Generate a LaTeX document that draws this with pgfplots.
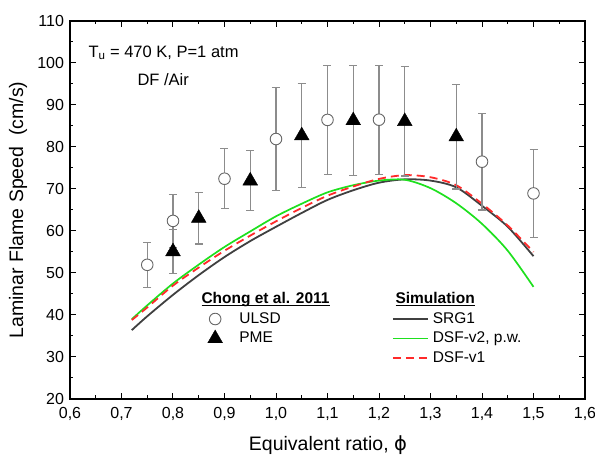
\documentclass[border=0pt]{standalone}
\usepackage{fontspec}
\setmainfont{Liberation Sans}
\newfontfamily\dejavu{DejaVu Sans}
\usepackage{pgfplots}
\pgfplotsset{compat=1.18}
\definecolor{srg}{HTML}{404040}
\definecolor{dsfgreen}{HTML}{1EE01E}
\definecolor{dsfred}{HTML}{FF2A2A}
\definecolor{errgray}{HTML}{8C8C8C}
\newcommand\myul[1]{\setbox0\hbox{#1}\rlap{\rule[-2.2pt]{\wd0}{1pt}}\box0}

\pgfplotstableread{
x y e
0.75 51.95 5.3
0.80 62.4 6.3
0.90 72.45 7.2
1.00 81.9 12.3
1.10 86.45 13.0
1.20 86.5 13.0
1.40 76.5 11.5
1.50 68.95 10.4
}\ulsd
\pgfplotstableread{
x y e
0.80 55.1 5.2
0.85 63.05 6.15
0.95 71.95 7.15
1.05 82.7 12.4
1.15 86.3 13.0
1.25 86.1 13.0
1.35 82.45 12.45
}\pme
\pgfplotstableread{
x y
0.72 36.4
0.75 39.7
0.80 44.8
0.85 49.5
0.90 53.8
0.95 57.6
1.00 61.0
1.05 64.3
1.10 67.4
1.15 69.7
1.20 71.5
1.25 72.3
1.30 72.0
1.35 70.4
1.40 66.0
1.45 61.0
1.50 54.0
}\srg
\pgfplotstableread{
x y
0.72 39.0
0.75 42.3
0.80 47.5
0.85 52.0
0.90 56.2
0.95 59.9
1.00 63.5
1.05 66.5
1.10 69.2
1.15 70.9
1.20 72.0
1.25 72.2
1.30 70.2
1.35 66.6
1.40 61.7
1.45 55.3
1.50 46.7
}\dsfvtwo
\pgfplotstableread{
x y
0.72 38.8
0.75 41.8
0.80 47.0
0.85 51.3
0.90 55.3
0.95 58.9
1.00 62.3
1.05 65.5
1.10 68.4
1.15 70.6
1.20 72.4
1.25 73.3
1.30 72.8
1.35 70.9
1.40 66.5
1.45 61.3
1.50 55.0
}\dsfvone

\pgfplotsset{
  base/.style={scale only axis, width=515pt, height=378pt,
    xmin=0.6, xmax=1.6, ymin=20, ymax=110, at={(0,0)}, anchor=south west},
  leg/.style={legend cell align=left,
    legend style={draw=none, fill=none, inner sep=0pt, outer sep=0pt,
      row sep=0pt, column sep=2pt, font=\fontsize{15.5}{15.5}\selectfont,
      nodes={inner sep=2pt, text height=12pt, text depth=3.5pt}}},
  errs/.style={forget plot, draw=none, mark=none,
    error bars/.cd, y dir=both, y explicit,
    error bar style={errgray, line width=1.1pt},
    error mark options={rotate=90, errgray, mark size=4pt, line width=1.1pt}}
}

\begin{document}
\begin{tikzpicture}
% simulation curves (overlaid axis)
\begin{axis}[base, hide axis, leg,
  legend style={at={(axis description cs:0.6252,0.2374)}, anchor=north west},
  legend image code/.code={\draw[#1] (0pt,0pt) -- (35pt,0pt);}]
\addplot[srg, line width=1.8pt, smooth] table[x=x,y=y]{\srg};
\addlegendentry{SRG1}
\addplot[dsfgreen, line width=1.7pt, smooth] table[x=x,y=y]{\dsfvtwo};
\addlegendentry{DSF-v2, p.w.}
\addplot[dsfred, line width=1.8pt, dash pattern=on 8pt off 5pt, smooth] table[x=x,y=y]{\dsfvone};
\addlegendentry{DSF-v1}
\end{axis}
% experimental data + frame
\begin{axis}[base, leg,
  legend style={at={(axis description cs:0.2621,0.2374)}, anchor=north west},
  xtick={0.6,0.7,0.8,0.9,1.0,1.1,1.2,1.3,1.4,1.5,1.6},
  ytick={20,30,40,50,60,70,80,90,100,110},
  minor x tick num=1, minor y tick num=1,
  tick align=inside,
  major tick length=6pt, minor tick length=3.5pt,
  every tick/.style={black, line width=1pt},
  axis line style={line width=1.3pt},
  x tick label style={/pgf/number format/.cd, use comma, fixed, fixed zerofill, precision=1, assume math mode=true, /tikz/.cd, yshift=-5pt},
  y tick label style={/pgf/number format/.cd, assume math mode=true, /tikz/.cd, xshift=-2.5pt},
  ticklabel style={font=\fontsize{16}{16}\selectfont},
  xlabel={Equivalent ratio, {\dejavu ϕ}},
  ylabel={Laminar Flame Speed\ \ (cm/s)},
  label style={font=\fontsize{19.5}{19.5}\selectfont},
  xlabel style={at={(axis description cs:0.501,-0.121)}, anchor=center},
  ylabel style={at={(axis description cs:-0.101,0.5)}, anchor=center},
  legend image code/.code={\path (0pt,0pt) (30pt,0pt); \draw[#1] plot coordinates {(10pt,0pt)};}
]
\addplot[errs] table[x=x, y=y, y error=e]{\ulsd};
\addplot[errs] table[x=x, y=y, y error=e]{\pme};
\addplot[only marks, mark=*, mark size=5.8pt,
  mark options={fill=white, draw=black!60, line width=0.9pt}]
  table[x=x, y=y]{\ulsd};
\addlegendentry{ULSD}
\addplot[only marks, mark=triangle*, mark size=8.5pt,
  mark options={fill=black, draw=black}]
  table[x=x, y=y]{\pme};
\addlegendentry{PME}
\node[anchor=base west, font=\fontsize{16.5}{16.5}\selectfont] at (axis cs:0.6291,101.36) {T\textsubscript{u} = 470 K, P=1 atm};
\node[anchor=base west, font=\fontsize{16.5}{16.5}\selectfont] at (axis cs:0.7243,94.76) {DF /Air};
\node[anchor=base west, font=\bfseries\fontsize{15.5}{15.5}\selectfont] at (axis cs:0.8485,42.62) {\myul{Chong et al. 2011}};
\node[anchor=base west, font=\bfseries\fontsize{15.5}{15.5}\selectfont] at (axis cs:1.2252,42.62) {\myul{Simulation}};
\end{axis}
\pgfresetboundingbox
\path[use as bounding box] (-70pt,-56pt) rectangle (525pt,399pt);
\end{tikzpicture}
\end{document}
